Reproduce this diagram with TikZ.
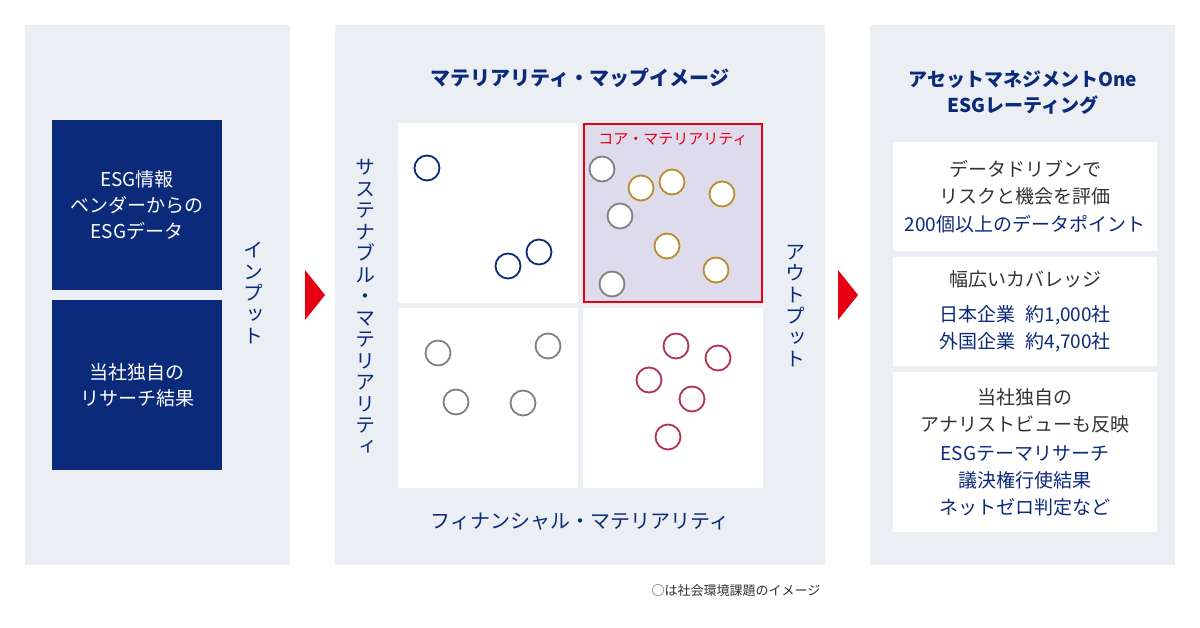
\documentclass[tikz,border=0pt]{standalone}
\usepackage{fontspec}
\setmainfont{Noto Sans CJK JP}
\newfontfamily\tatefont[RawFeature=+vert]{Noto Sans CJK JP}
\usetikzlibrary{positioning}

\definecolor{navy}{HTML}{0C2A7A}
\definecolor{panelgray}{HTML}{EBEEF2}
\definecolor{coreviolet}{HTML}{DEDCEC}
\definecolor{alertred}{HTML}{E60012}
\definecolor{textgray}{HTML}{333333}
\definecolor{issuegray}{HTML}{808080}
\definecolor{issuegold}{HTML}{B98D2E}
\definecolor{issuerose}{HTML}{B3304E}

\tikzset{
  panel/.style={rectangle, fill=panelgray, inner sep=0pt, minimum height=540pt},
  inputbox/.style={rectangle, fill=navy, inner sep=0pt, minimum width=170pt, minimum height=170pt,
    align=center, text=white, font=\fontsize{19}{26}\selectfont},
  quadrant/.style={rectangle, fill=white, inner sep=0pt, minimum width=180pt, minimum height=180pt},
  card/.style={rectangle, fill=white, inner sep=0pt, minimum width=264pt},
  issue/.style={circle, draw=#1, fill=white, line width=1.8pt, minimum size=25pt, inner sep=0pt},
  tate/.style={align=center, text=navy, font=\tatefont\fontsize{20}{21.5}\selectfont},
  heading/.style={align=center, text=navy, font=\bfseries\fontsize{20}{26}\selectfont},
  cardtext/.style={align=center, text=textgray, font=\fontsize{19}{27}\selectfont},
}

\begin{document}
\begin{tikzpicture}[x=1pt, y=-1pt]
  \fill[white] (0,0) rectangle (1200,628);
  \useasboundingbox (0,0) rectangle (1200,628);

  % three panels
  \node[panel, minimum width=265pt] (inpanel) at (157.5,295) {};
  \node[panel, minimum width=490pt] (mappanel) at (580,295) {};
  \node[panel, minimum width=305pt] (ratingpanel) at (1022.5,295) {};

  % input
  \node[inputbox] (vendor) at (137,205) {ESG情報\\ベンダーからの\\ESGデータ};
  \node[inputbox] (inhouse) at (137,385) {当社独自の\\リサーチ結果};
  \node[tate] (inlabel) at (253,293) {イ\\ン\\プ\\ッ\\ト};

  \fill[alertred] (305,270) -- (325,295) -- (305,320) -- cycle;
  \fill[alertred] (838,270) -- (858,295) -- (838,320) -- cycle;

  % materiality map
  \node[heading] (maptitle) at (580,78) {マテリアリティ・マップイメージ};
  \node[quadrant] (q11) at (488,213) {};
  \node[quadrant, fill=coreviolet, draw=alertred, line width=2pt,
    minimum width=178pt, minimum height=178pt] (core) at (673,213) {};
  \node[quadrant] (q21) at (488,398) {};
  \node[quadrant] (q22) at (673,398) {};
  \node[text=alertred, font=\fontsize{15}{18}\selectfont] (corelabel) at (673,139) {コア・マテリアリティ};

  \node[issue=navy] (a1) at (427,168) {};
  \node[issue=navy] (a2) at (508,266) {};
  \node[issue=navy] (a3) at (539,252) {};

  \node[issue=issuegray] (b1) at (602,169) {};
  \node[issue=issuegray] (b2) at (620,216) {};
  \node[issue=issuegray] (b3) at (612,284) {};
  \node[issue=issuegold] (b4) at (641,188) {};
  \node[issue=issuegold] (b5) at (672,182) {};
  \node[issue=issuegold] (b6) at (722,194) {};
  \node[issue=issuegold] (b7) at (667,246) {};
  \node[issue=issuegold] (b8) at (716,270) {};

  \node[issue=issuegray] (c1) at (438,353) {};
  \node[issue=issuegray] (c2) at (548,346) {};
  \node[issue=issuegray] (c3) at (456,402) {};
  \node[issue=issuegray] (c4) at (523,403) {};

  \node[issue=issuerose] (d1) at (676,346) {};
  \node[issue=issuerose] (d2) at (718,358) {};
  \node[issue=issuerose] (d3) at (649,380) {};
  \node[issue=issuerose] (d4) at (692,399) {};
  \node[issue=issuerose] (d5) at (668,437) {};

  \node[tate] (sustlabel) at (365,307) {サ\\ス\\テ\\ナ\\ブ\\ル\\・\\マ\\テ\\リ\\ア\\リ\\テ\\ィ};
  \node[tate] (outlabel) at (795,306) {ア\\ウ\\ト\\プ\\ッ\\ト};
  \node[text=navy, font=\fontsize{20}{24}\selectfont] (finlabel) at (580,522) {フィナンシャル・マテリアリティ};

  % rating
  \node[heading, font=\bfseries\fontsize{19}{26}\selectfont] (ratingtitle) at (1023,93) {アセットマネジメントOne\\ESGレーティング};
  \node[card, minimum height=109pt] (card1) at (1025,196.5) {};
  \node[card, minimum height=109pt] (card2) at (1025,311.5) {};
  \node[card, minimum height=160pt] (card3) at (1025,452) {};
  \node[cardtext] at (card1.center) {データドリブンで\\リスクと機会を評価\\[1pt]\textcolor{navy}{200個以上のデータポイント}};
  \node[cardtext] at (card2.center) {幅広いカバレッジ\\[8pt]\textcolor{navy}{日本企業\hspace{0.55em}約1,000社}\\\textcolor{navy}{外国企業\hspace{0.55em}約4,700社}};
  \node[cardtext] at (card3.center) {当社独自の\\アナリストビューも反映\\[2pt]\textcolor{navy}{ESGテーマリサーチ}\\\textcolor{navy}{議決権行使結果}\\\textcolor{navy}{ネットゼロ判定など}};

  \node[anchor=east, text=textgray, font=\fontsize{13}{16}\selectfont] (note) at (824,591) {○は社会環境課題のイメージ};
\end{tikzpicture}
\end{document}
